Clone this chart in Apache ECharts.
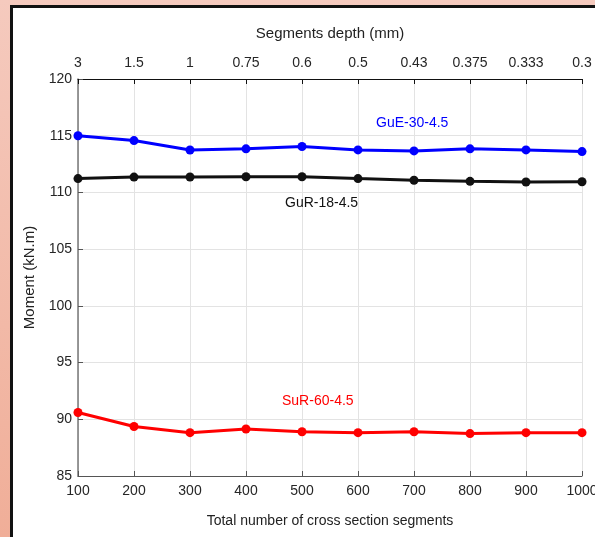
<!DOCTYPE html>
<html>
<head>
<meta charset="utf-8">
<script src="https://cdn.jsdelivr.net/npm/echarts@6/dist/echarts.min.js"></script>
<style>
html,body{margin:0;padding:0;overflow:hidden;}
#chart{width:595px;height:537px;}
</style>
</head>
<body>
<div id="chart"></div>
<script>
const segments = [100, 200, 300, 400, 500, 600, 700, 800, 900, 1000];
const depthLabels = ['3', '1.5', '1', '0.75', '0.6', '0.5', '0.43', '0.375', '0.333', '0.3'];
const gue30 = [115.0, 114.57, 113.74, 113.84, 114.05, 113.75, 113.66, 113.84, 113.75, 113.6];
const gur18 = [111.22, 111.35, 111.36, 111.38, 111.38, 111.22, 111.07, 110.98, 110.92, 110.94];
const sur60 = [90.6, 89.36, 88.82, 89.14, 88.9, 88.82, 88.9, 88.74, 88.82, 88.82];
const seriesNames = ['GuE-30-4.5', 'GuR-18-4.5', 'SuR-60-4.5'];

const font = 'Liberation Sans, Arial, Helvetica, sans-serif';
const chart = echarts.init(document.getElementById('chart'));

function mk(name, data, color) {
  return {
    name: name, type: 'line',
    data: segments.map((s, i) => [s, data[i]]),
    lineStyle: {color: color, width: 3},
    itemStyle: {color: color},
    symbol: 'circle', symbolSize: 9,
    animation: false
  };
}

chart.setOption({
  animation: false,
  backgroundColor: {
    type: 'linear', x: 0, y: 0, x2: 0, y2: 1,
    colorStops: [{offset: 0, color: '#f5cabe'}, {offset: 1, color: '#f0ae98'}]
  },
  graphic: [
    {type: 'rect', z: -10, silent: true,
     shape: {x: 11.5, y: 6.5, width: 700, height: 700},
     style: {fill: '#ffffff', stroke: '#111111', lineWidth: 3}},
    {type: 'text', left: 376, top: 116, z: 100,
     style: {text: seriesNames[0], fill: '#0000ff', font: '14px ' + font}},
    {type: 'text', left: 285, top: 196, z: 100,
     style: {text: seriesNames[1], fill: '#111111', font: '14px ' + font}},
    {type: 'text', left: 282, top: 394, z: 100,
     style: {text: seriesNames[2], fill: '#ff0000', font: '14px ' + font}}
  ],
  grid: {left: 78, top: 79, right: 13, bottom: 61, containLabel: false, outerBoundsMode: 'none'},
  xAxis: [
    {
      type: 'value', position: 'bottom', min: 100, max: 1000, interval: 100,
      name: 'Total number of cross section segments', nameLocation: 'middle', nameGap: 38,
      nameTextStyle: {color: '#222', fontSize: 14, fontFamily: font},
      axisLine: {onZero: false, lineStyle: {color: '#555', width: 1}},
      axisTick: {inside: true, length: 5, lineStyle: {color: '#555'}},
      axisLabel: {color: '#262626', fontSize: 14, fontFamily: font, margin: 8,
        formatter: function (v) { return String(v); }},
      splitLine: {show: true, lineStyle: {color: '#e3e3e3', width: 1}}
    },
    {
      type: 'value', position: 'top', min: 100, max: 1000, interval: 100,
      name: 'Segments depth (mm)', nameLocation: 'middle', nameGap: 38,
      nameTextStyle: {color: '#222', fontSize: 15, fontFamily: font},
      axisLine: {onZero: false, lineStyle: {color: '#111', width: 1}},
      axisTick: {inside: true, length: 5, lineStyle: {color: '#111'}},
      axisLabel: {color: '#262626', fontSize: 14, fontFamily: font, margin: 9,
        formatter: function (v) { const i = segments.indexOf(v); return i >= 0 ? depthLabels[i] : ''; }},
      splitLine: {show: false}
    }
  ],
  yAxis: {
    type: 'value', min: 85, max: 120, interval: 5,
    name: 'Moment (kN.m)', nameLocation: 'middle', nameGap: 40,
    nameTextStyle: {color: '#222', fontSize: 15, fontFamily: font},
    axisLine: {show: true, lineStyle: {color: '#777', width: 1.5}},
    axisTick: {show: true, inside: true, length: 5, lineStyle: {color: '#555'}},
    axisLabel: {color: '#262626', fontSize: 14, fontFamily: font, margin: 6},
    splitLine: {show: true, lineStyle: {color: '#e3e3e3', width: 1}}
  },
  series: [
    mk(seriesNames[0], gue30, '#0000ff'),
    mk(seriesNames[1], gur18, '#111111'),
    mk(seriesNames[2], sur60, '#ff0000')
  ]
});
</script>
</body>
</html>
